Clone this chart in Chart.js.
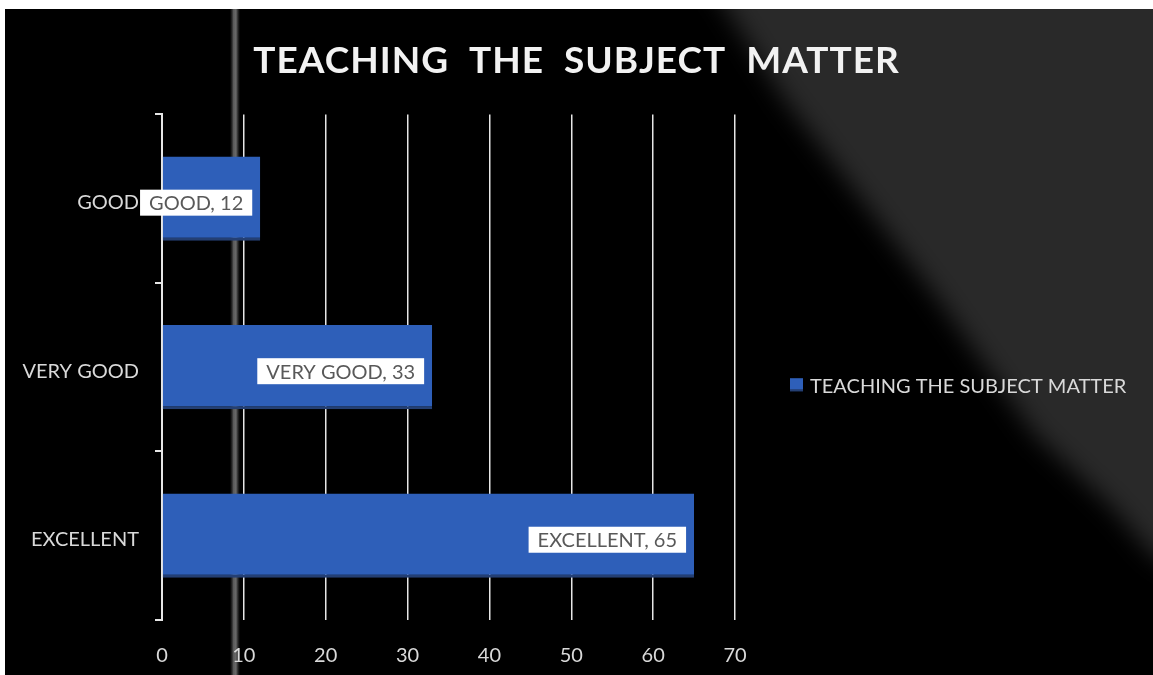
<!DOCTYPE html>
<html>
<head>
<meta charset="utf-8">
<script src="https://cdn.jsdelivr.net/npm/chart.js@4/dist/chart.umd.min.js"></script>
<style>
html,body{margin:0;padding:0;background:#fff;}
#wrap{position:relative;width:1153px;height:675px;}
</style>
</head>
<body>
<div id="wrap"><canvas id="c" width="1153" height="675"></canvas></div>
<script>
const chartTitle = 'TEACHING  THE  SUBJECT  MATTER';
const seriesName = 'TEACHING THE SUBJECT MATTER';
const categories = ['GOOD', 'VERY GOOD', 'EXCELLENT'];
const values = [12, 33, 65];
const xMin = 0, xMax = 70, xStep = 10;

const FONT = 'Lato, "Open Sans", sans-serif';
const TEXT = '#d9d9d9';
const BAR = '#2E5FB9';
const BAR_EDGE = '#243f73';

const bgPlugin = {
  id: 'bg',
  beforeDraw(chart) {
    const ctx = chart.ctx, W = chart.width, H = chart.height;
    ctx.save();
    ctx.fillStyle = '#ffffff';
    ctx.fillRect(0, 0, W, H);
    ctx.fillStyle = '#000000';
    ctx.fillRect(5, 9, W - 5, H - 9);
    ctx.beginPath();
    ctx.rect(5, 9, W - 5, H - 9);
    ctx.clip();
    ctx.filter = 'blur(12px)';
    ctx.fillStyle = '#292929';
    ctx.beginPath();
    ctx.moveTo(695, -40);
    ctx.lineTo(W + 60, -40);
    ctx.lineTo(W + 60, 590);
    ctx.lineTo(W, 555);
    ctx.lineTo(1110, 505);
    ctx.lineTo(1035, 435);
    ctx.lineTo(935, 295);
    ctx.lineTo(785, 100);
    ctx.closePath();
    ctx.fill();
    ctx.filter = 'none';
    const g = ctx.createLinearGradient(230, 0, 240, 0);
    g.addColorStop(0, 'rgba(60,60,60,0)');
    g.addColorStop(0.35, '#5a5a5a');
    g.addColorStop(0.6, '#6a6a6a');
    g.addColorStop(1, 'rgba(60,60,60,0)');
    ctx.fillStyle = g;
    ctx.fillRect(230, 9, 10, H - 9);
    ctx.restore();
    // letter-spaced title, centred on the whole picture
    const tb = chart.titleBlock;
    if (tb && !tb._spaced) {
      const orig = tb.draw;
      tb.draw = function () {
        const c = chart.ctx;
        c.save();
        c.letterSpacing = '1px';
        c.translate(chart.width / 2 - (this.left + this.right) / 2, 0);
        orig.apply(this, arguments);
        c.restore();
      };
      tb._spaced = true;
    }
  }
};

const labelPlugin = {
  id: 'barLabels',
  afterDatasetsDraw(chart) {
    const ctx = chart.ctx;
    const meta = chart.getDatasetMeta(0);
    ctx.save();
    ctx.font = '20px ' + FONT;
    ctx.textBaseline = 'middle';
    ctx.textAlign = 'right';
    meta.data.forEach((bar, i) => {
      const txt = chart.data.labels[i] + ', ' + chart.data.datasets[0].data[i];
      const w = ctx.measureText(txt).width;
      const right = bar.x - 8;
      const cy = bar.y + 4;
      ctx.fillStyle = '#ffffff';
      ctx.fillRect(right - w - 18, cy - 13, w + 18, 26);
      ctx.fillStyle = '#595959';
      ctx.fillText(txt, right - 9, cy + 1);
    });
    ctx.restore();
  }
};

const legendPlugin = {
  id: 'sideLegend',
  afterDraw(chart) {
    const ctx = chart.ctx;
    const ds = chart.data.datasets[0];
    const ca = chart.chartArea;
    const cy = (ca.top + ca.bottom) / 2 + 18;
    const x0 = ca.right + 55;
    ctx.save();
    ctx.fillStyle = ds.backgroundColor;
    ctx.fillRect(x0, cy - 7, 13, 13);
    ctx.fillStyle = BAR_EDGE;
    ctx.fillRect(x0, cy + 4, 13, 2);
    ctx.font = '20px ' + FONT;
    ctx.fillStyle = TEXT;
    ctx.textBaseline = 'middle';
    ctx.textAlign = 'left';
    ctx.fillText(ds.label, x0 + 20, cy + 1);
    ctx.restore();
  }
};

new Chart(document.getElementById('c'), {
  type: 'bar',
  data: {
    labels: categories,
    datasets: [{
      label: seriesName,
      data: values,
      backgroundColor: BAR,
      borderColor: BAR_EDGE,
      borderWidth: {top: 0, left: 0, right: 0, bottom: 3},
      borderSkipped: false,
      categoryPercentage: 1,
      barPercentage: 0.5
    }]
  },
  options: {
    indexAxis: 'y',
    responsive: false,
    animation: false,
    devicePixelRatio: 1,
    layout: {padding: {left: 5, right: 418, top: 0, bottom: 8}},
    plugins: {
      title: {
        display: true,
        text: chartTitle,
        color: '#f2f2f2',
        font: {family: FONT, size: 37, weight: 'bold', lineHeight: 1.2},
        padding: {top: 39, bottom: 31}
      },
      legend: {display: false},
      tooltip: {enabled: false}
    },
    scales: {
      x: {
        min: xMin, max: xMax,
        ticks: {stepSize: xStep, color: TEXT, font: {family: FONT, size: 20}, padding: 24},
        grid: {color: '#e6e6e6', lineWidth: 1.5, drawTicks: false},
        border: {display: false},
        afterFit(scale) { scale.height = 47; }
      },
      y: {
        offset: true,
        ticks: {color: TEXT, font: {family: FONT, size: 20}, padding: 16, labelOffset: 4},
        grid: {offset: true, drawOnChartArea: false, color: '#e6e6e6', lineWidth: 2, tickLength: 7},
        border: {display: true, color: '#e6e6e6', width: 2},
        afterFit(scale) { scale.width = 157; }
      }
    }
  },
  plugins: [bgPlugin, labelPlugin, legendPlugin]
});
</script>
</body>
</html>
